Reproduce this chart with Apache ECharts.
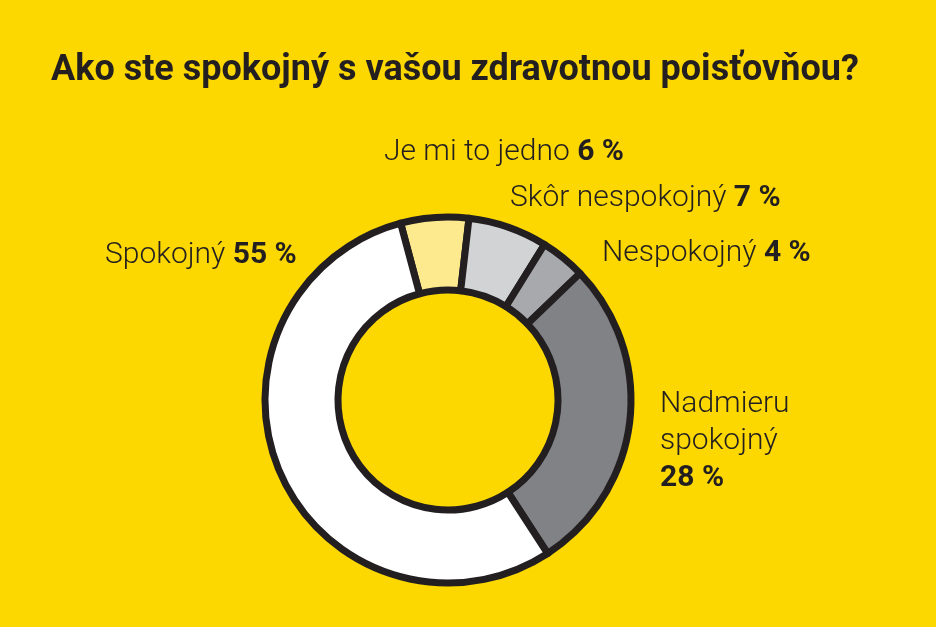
<!DOCTYPE html>
<html>
<head>
<meta charset="utf-8">
<script src="https://cdn.jsdelivr.net/npm/echarts@6/dist/echarts.min.js"></script>
<style>
  html, body { margin: 0; padding: 0; background: #FCD800; }
  #chart { width: 936px; height: 627px; }
</style>
</head>
<body>
<div id="chart"></div>
<script>
// odpovede v poradí v smere hodinových ručičiek, od vrchu
var nazvy = ['Je mi to jedno', 'Skôr nespokojný', 'Nespokojný', 'Nadmieru\nspokojný\n', 'Spokojný'];
var percenta = [6, 7, 4, 28, 55];
var farby = ['#FDE98E', '#D1D3D4', '#A7A9AC', '#808285', '#FFFFFF'];

// kde sú popisky (ľavý okraj, stred textu)
var popisky = [[384, 152], [510, 198], [602, 253], [660, 441], [105, 255]];

var data = [];
for (var i = 0; i < nazvy.length; i++) {
  data.push({
    name: nazvy[i],
    value: percenta[i],
    itemStyle: { color: farby[i] }
  });
}

var myChart = echarts.init(document.getElementById('chart'));
var option = {
  backgroundColor: '#FCD800',
  title: {
    text: 'Ako ste spokojný s vašou zdravotnou poisťovňou?',
    left: 51,
    top: 53,
    padding: 0,
    textStyle: {
      fontFamily: 'Roboto',
      fontWeight: 'bold',
      fontSize: 36,
      color: '#231F20'
    }
  },
  series: [{
    type: 'pie',
    center: [448, 400],
    radius: [110, 183],
    startAngle: 105,
    clockwise: true,
    silent: true,
    itemStyle: {
      borderColor: '#231F20',
      borderWidth: 7
    },
    label: {
      show: true,
      position: 'outside',
      formatter: function (p) {
        var sep = p.name.indexOf('\n') >= 0 ? '' : ' ';
        return p.name + sep + '{b|' + p.value + ' %}';
      },
      fontFamily: 'Roboto',
      fontWeight: 300,
      fontSize: 30,
      lineHeight: 37,
      color: '#231F20',
      rich: {
        b: {
          fontFamily: 'Roboto',
          fontWeight: 'bold',
          fontSize: 30,
          lineHeight: 37,
          color: '#231F20'
        }
      }
    },
    labelLine: { show: false },
    labelLayout: function (p) {
      var pos = popisky[p.dataIndex];
      return { x: pos[0], y: pos[1], align: 'left', verticalAlign: 'middle' };
    },
    data: data
  }]
};
myChart.setOption(option);
</script>
</body>
</html>
